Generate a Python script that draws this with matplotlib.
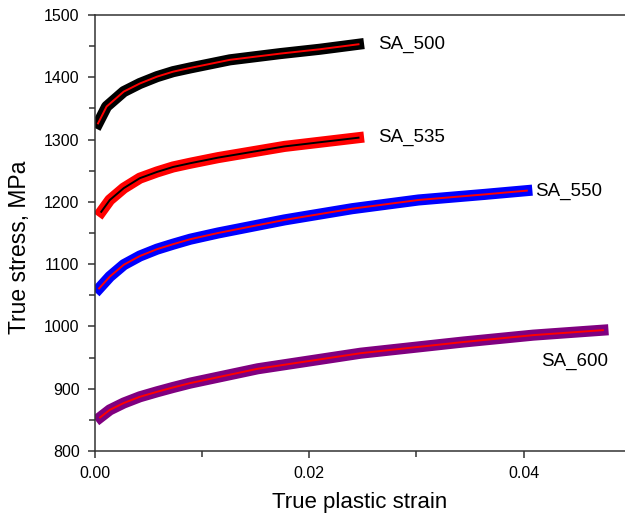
import matplotlib
matplotlib.use("Agg")
import matplotlib.pyplot as plt
from matplotlib.ticker import MultipleLocator

plt.rcParams["font.family"] = ["Liberation Sans", "DejaVu Sans"]

strain_500 = [0.0003, 0.0011, 0.0027, 0.0042, 0.0058, 0.0073, 0.0089, 0.0126, 0.0173, 0.0210, 0.0246]
stress_500 = [1326, 1353, 1377, 1390, 1401, 1409, 1415, 1428, 1438, 1445, 1453]

strain_535 = [0.0006, 0.0014, 0.0027, 0.0042, 0.0058, 0.0073, 0.0089, 0.0115, 0.0177, 0.0246]
stress_535 = [1184, 1203, 1222, 1238, 1248, 1256, 1262, 1271, 1289, 1303]

strain_550 = [0.0004, 0.0014, 0.0027, 0.0042, 0.0058, 0.0073, 0.0089, 0.0115, 0.0177,
              0.0240, 0.0302, 0.0364, 0.0403]
stress_550 = [1061, 1080, 1099, 1113, 1124, 1132, 1140, 1150, 1171, 1189, 1203, 1212, 1218]

strain_600 = [0.0005, 0.0014, 0.0027, 0.0042, 0.0058, 0.0073, 0.0089, 0.0152, 0.0248,
              0.0344, 0.0409, 0.0474]
stress_600 = [854, 866, 877, 887, 895, 902, 909, 932, 957, 975, 986, 994]

labels = ["SA_500", "SA_535", "SA_550", "SA_600"]

fig = plt.figure(figsize=(6.25, 5.15), dpi=100)
ax = fig.add_axes([0.1517, 0.1243, 0.8483, 0.8466])

series = [
    (strain_500, stress_500, "black", "red"),
    (strain_535, stress_535, "red", "black"),
    (strain_550, stress_550, "blue", "red"),
    (strain_600, stress_600, "purple", "red"),
]
for x, y, band_c, line_c in series:
    # measured points shown as a thick band, fitted curve drawn on top
    ax.plot(x, y, color=band_c, linewidth=8, solid_capstyle="projecting",
            solid_joinstyle="round", zorder=2)
    ax.plot(x, y, color=line_c, linewidth=1.4, zorder=3)

ax.text(0.0264, 1453, labels[0], fontsize=13.5, va="center", ha="left")
ax.text(0.0264, 1303, labels[1], fontsize=13.5, va="center", ha="left")
ax.text(0.0411, 1216, labels[2], fontsize=13.5, va="center", ha="left")
ax.text(0.0416, 944, labels[3], fontsize=13.5, va="center", ha="left")

ax.set_xlim(0, 0.04946)
ax.set_ylim(800, 1500)
ax.set_xticks([0.0, 0.02, 0.04])
ax.set_xticklabels(["0.00", "0.02", "0.04"])
ax.xaxis.set_minor_locator(MultipleLocator(0.01))
ax.yaxis.set_major_locator(MultipleLocator(100))
ax.yaxis.set_minor_locator(MultipleLocator(50))

ax.tick_params(axis="both", which="major", direction="out", length=5,
               width=1.1, labelsize=11.5, colors="#333333", labelcolor="black")
ax.tick_params(axis="both", which="minor", direction="out", length=4,
               width=1.1, colors="#333333")
ax.tick_params(axis="x", which="major", pad=6)
ax.tick_params(axis="y", which="major", pad=6)
ax.tick_params(top=False, right=False)

ax.spines["right"].set_visible(False)
for s in ("left", "bottom", "top"):
    ax.spines[s].set_color("#333333")
    ax.spines[s].set_linewidth(1.1)

ax.set_xlabel("True plastic strain", fontsize=16, labelpad=8)
ax.set_ylabel("True stress, MPa", fontsize=16.5)
ax.yaxis.set_label_coords(-0.12, 0.466)

fig.savefig("out.png", dpi=100)
